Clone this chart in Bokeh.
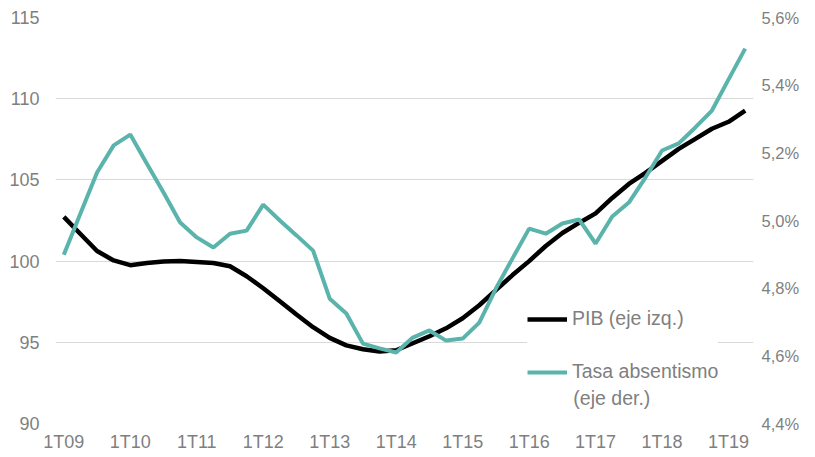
from bokeh.plotting import figure
from bokeh.models import (Range1d, LinearAxis, FixedTicker, CustomJSTickFormatter,
                          Legend, LegendItem, ColumnDataSource, Label)
from bokeh.embed import file_html
from bokeh.resources import INLINE

quarters = [f"{q}T{y:02d}" for y in range(9, 20) for q in range(1, 5)][:42]

pib = [102.72, 101.67, 100.62, 100.04, 99.75, 99.88, 99.97, 100.0, 99.94, 99.88,
       99.68, 99.07, 98.33, 97.53, 96.71, 95.93, 95.27, 94.81, 94.57, 94.44,
       94.51, 94.94, 95.37, 95.86, 96.48, 97.28, 98.21, 99.14, 100.0, 100.93,
       101.73, 102.35, 102.94, 103.89, 104.75, 105.43, 106.17, 106.91, 107.53, 108.15,
       108.58, 109.26]

tasa = [4.899, 5.021, 5.142, 5.222, 5.254, 5.168, 5.083, 4.994, 4.950, 4.920,
        4.961, 4.970, 5.047, 5.000, 4.956, 4.911, 4.769, 4.725, 4.636, 4.622,
        4.610, 4.654, 4.675, 4.645, 4.651, 4.698, 4.799, 4.888, 4.976, 4.961,
        4.991, 5.003, 4.932, 5.012, 5.053, 5.127, 5.207, 5.228, 5.275, 5.325,
        5.417, 5.508]

left_ticks = [90, 95, 100, 105, 110, 115]
right_ticks = [4.4, 4.6, 4.8, 5.0, 5.2, 5.4, 5.6]

legend_pib = "PIB (eje izq.)"
legend_tasa = "Tasa absentismo"
legend_tasa_2 = "(eje der.)"

x = list(range(len(quarters)))
src = ColumnDataSource(dict(x=x, pib=pib, tasa=tasa))

GREY = "#7f7f7f"
TEAL = "#5ab4ac"
FONT = "Liberation Sans"

p = figure(frame_width=698, frame_height=406, output_backend="svg",
           toolbar_location=None, x_range=Range1d(-0.5, 41.5),
           y_range=Range1d(90, 115),
           min_border_left=55, min_border_right=46, min_border_top=17,
           min_border_bottom=30)
p.outline_line_color = None
p.background_fill_color = "white"

p.extra_y_ranges = {"pct": Range1d(4.4, 5.6)}

p.xaxis.ticker = FixedTicker(ticks=[i for i in x if i % 4 == 0])
p.xaxis.major_label_overrides = {i: quarters[i] for i in x if i % 4 == 0}
p.yaxis.ticker = FixedTicker(ticks=left_ticks)

for ax in [p.xaxis[0], p.yaxis[0]]:
    ax.axis_line_color = None
    ax.major_tick_line_color = None
    ax.minor_tick_line_color = None
    ax.major_tick_out = 0
    ax.minor_tick_out = 0
    ax.major_label_text_color = GREY
    ax.major_label_text_font = FONT
    ax.major_label_text_font_size = "18px"
p.yaxis.major_label_standoff = 16
p.xaxis.major_label_standoff = 8

raxis = LinearAxis(y_range_name="pct", ticker=FixedTicker(ticks=right_ticks),
                   formatter=CustomJSTickFormatter(code="return tick.toFixed(1).replace('.', ',') + '%';"))
raxis.axis_line_color = None
raxis.major_tick_line_color = None
raxis.minor_tick_line_color = None
raxis.major_tick_out = 0
raxis.minor_tick_out = 0
raxis.major_label_text_color = GREY
raxis.major_label_text_font = FONT
raxis.major_label_text_font_size = "16.5px"
raxis.major_label_standoff = 8
p.add_layout(raxis, "right")

p.xgrid.grid_line_color = None
p.ygrid.grid_line_color = "#d9d9d9"
p.ygrid.grid_line_width = 1

r1 = p.line("x", "pib", source=src, line_color="black", line_width=4.5)
r2 = p.line("x", "tasa", source=src, line_color=TEAL, line_width=4, y_range_name="pct")

legend = Legend(items=[LegendItem(label=legend_pib, renderers=[r1]),
                       LegendItem(label=legend_tasa, renderers=[r2])],
                location=(472, 40))
legend.border_line_color = None
legend.background_fill_color = "white"
legend.background_fill_alpha = 1
legend.label_text_font = FONT
legend.label_text_font_size = "19.5px"
legend.label_text_color = GREY
legend.glyph_width = 40
legend.label_standoff = 5
legend.padding = 24
legend.spacing = 30
legend.margin = 0
p.add_layout(legend, "center")

p.add_layout(Label(x=30.66, y=91.6, text=legend_tasa_2, text_font=FONT,
                   text_font_size="19.5px", text_color=GREY, text_baseline="middle",
                   text_align="left", level="overlay"))

open("out.html", "w").write(file_html(p, INLINE))
